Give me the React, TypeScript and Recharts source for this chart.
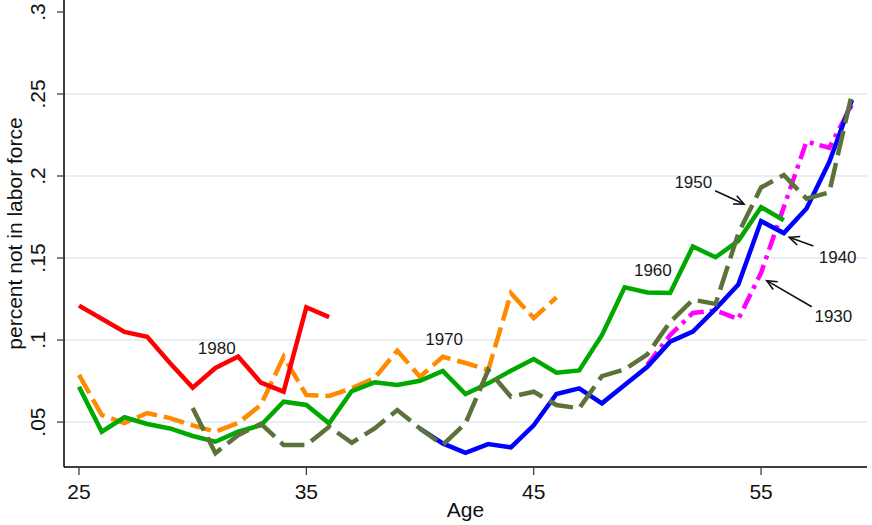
import { LineChart, Line, XAxis, YAxis, ReferenceLine, ReferenceDot, Label } from 'recharts'

const ages = [25, 26, 27, 28, 29, 30, 31, 32, 33, 34, 35, 36, 37, 38, 39, 40, 41, 42, 43, 44, 45, 46, 47, 48, 49, 50, 51, 52, 53, 54, 55, 56, 57, 58, 59]

// each cohort starts at a given age, values are share not in labor force
const start1980 = 25
const cohort1980 = [0.121, 0.113, 0.105, 0.102, 0.086, 0.071, 0.083, 0.09, 0.074, 0.0685, 0.12, 0.114]
const start1970 = 25
const cohort1970 = [0.0787, 0.0543, 0.0494, 0.0555, 0.0524, 0.048, 0.0441, 0.0494, 0.0604, 0.0898, 0.0665, 0.0659, 0.0707, 0.0768, 0.0935, 0.0776, 0.0898, 0.086, 0.0817, 0.1285, 0.1134, 0.126]
const start1960 = 25
const cohort1960 = [0.0715, 0.0441, 0.0529, 0.0488, 0.0461, 0.0415, 0.038, 0.0441, 0.048, 0.0624, 0.0604, 0.0492, 0.0689, 0.0742, 0.0726, 0.0752, 0.0811, 0.0671, 0.0736, 0.0813, 0.0884, 0.0801, 0.0815, 0.103, 0.1321, 0.129, 0.1287, 0.157, 0.1505, 0.1605, 0.181, 0.173]
const start1950 = 30
const cohort1950 = [0.0585, 0.031, 0.042, 0.049, 0.036, 0.036, 0.0471, 0.0374, 0.0461, 0.0573, 0.0461, 0.036, 0.0492, 0.0817, 0.0654, 0.0685, 0.0604, 0.0584, 0.078, 0.0821, 0.0913, 0.111, 0.1246, 0.122, 0.165, 0.193, 0.2006, 0.1862, 0.19, 0.2504]
const start1940 = 40
const cohort1940 = [0.046, 0.037, 0.0313, 0.0366, 0.0346, 0.048, 0.0671, 0.0705, 0.0614, 0.0726, 0.0837, 0.099, 0.1051, 0.119, 0.1338, 0.1725, 0.1652, 0.1802, 0.2085, 0.2463]
const start1930 = 50
const cohort1930 = [0.085, 0.103, 0.1165, 0.118, 0.1128, 0.141, 0.181, 0.221, 0.2172, 0.2435]

const xTicks = [25, 35, 45, 55]
const yTicks = [0.05, 0.1, 0.15, 0.2, 0.25, 0.3]
const gridValues = [0.05, 0.1, 0.15, 0.2, 0.25]

const cohortLabels = [
  { text: '1980', age: 31.06, v: 0.0949 },
  { text: '1970', age: 41.06, v: 0.1004 },
  { text: '1960', age: 50.24, v: 0.1427 },
  { text: '1950', age: 52.02, v: 0.1965 },
  { text: '1940', age: 58.37, v: 0.1508 },
  { text: '1930', age: 58.18, v: 0.1146 },
]

const arrows = [
  { from: [52.98, 0.191], to: [54.25, 0.1829] },
  { from: [57.3, 0.1573], to: [56.24, 0.1626] },
  { from: [57.23, 0.1203], to: [55.25, 0.1362] },
]

const at = (start: number, vals: number[], age: number) => {
  const i = age - start
  return i >= 0 && i < vals.length ? vals[i] : null
}

const data = ages.map(age => ({
  age,
  c1930: at(start1930, cohort1930, age),
  c1940: at(start1940, cohort1940, age),
  c1950: at(start1950, cohort1950, age),
  c1960: at(start1960, cohort1960, age),
  c1970: at(start1970, cohort1970, age),
  c1980: at(start1980, cohort1980, age),
}))

const fmtY = (v: number) => String(v).replace(/^0/, '')

const YTick = (props: any) => {
  const { y, payload } = props
  return (
    <text x={45} y={y} transform={`rotate(-90 45 ${y})`} textAnchor="middle" fontSize={21} fill="#111">
      {fmtY(payload.value)}
    </text>
  )
}

const XTick = (props: any) => {
  const { x, payload } = props
  return (
    <text x={x} y={499} textAnchor="middle" fontSize={21} fill="#111">
      {payload.value}
    </text>
  )
}

const Arrow = (props: any) => {
  const { x1, y1, x2, y2 } = props
  const ang = Math.atan2(y2 - y1, x2 - x1)
  const len = 11
  const spread = 0.42
  const ax = x2 - len * Math.cos(ang - spread)
  const ay = y2 - len * Math.sin(ang - spread)
  const bx = x2 - len * Math.cos(ang + spread)
  const by = y2 - len * Math.sin(ang + spread)
  return (
    <g stroke="#111" strokeWidth={1.6} fill="none">
      <line x1={x1} y1={y1} x2={x2} y2={y2} />
      <polyline points={`${ax},${ay} ${x2},${y2} ${bx},${by}`} />
    </g>
  )
}

export default function App() {
  return (
    <div style={{ position: 'absolute', left: 0, top: 0, background: '#fff' }}>
      <LineChart
        width={872}
        height={525}
        data={data}
        margin={{ top: 0, right: 5, bottom: 0, left: 0 }}
        style={{ fontFamily: '"Liberation Sans", Arial, sans-serif' }}
      >
        {gridValues.map(g => (
          <ReferenceLine key={g} y={g} stroke="#e8eef2" strokeWidth={2} />
        ))}
        <XAxis
          dataKey="age"
          type="number"
          domain={[24.34, 59.66]}
          ticks={xTicks}
          allowDataOverflow
          height={58}
          tickSize={8}
          tickLine={{ stroke: '#333', strokeWidth: 1.2 }}
          axisLine={{ stroke: '#000', strokeWidth: 1.5 }}
          tick={<XTick />}
        >
          <Label
            content={(p: any) => {
              const vb = p.viewBox
              return (
                <text x={vb.x + vb.width / 2} y={517} textAnchor="middle" fontSize={21} fill="#111">Age</text>
              )
            }}
          />
        </XAxis>
        <YAxis
          type="number"
          domain={[0.0226, 0.3073]}
          ticks={yTicks}
          allowDataOverflow
          width={64}
          tickSize={7}
          tickLine={{ stroke: '#333', strokeWidth: 1.2 }}
          axisLine={{ stroke: '#000', strokeWidth: 1.5 }}
          tick={<YTick />}
        >
          <Label
            content={(p: any) => {
              const vb = p.viewBox
              const cy = vb.y + vb.height / 2
              return (
                <text x={22} y={cy} transform={`rotate(-90 22 ${cy})`} textAnchor="middle" fontSize={21} fill="#111">
                  percent not in labor force
                </text>
              )
            }}
          />
        </YAxis>
        <Line dataKey="c1930" stroke="#ff00ff" strokeWidth={4.5} strokeDasharray="16 6 4 6" dot={false} isAnimationActive={false} />
        <Line dataKey="c1940" stroke="#0000ff" strokeWidth={4.5} dot={false} isAnimationActive={false} />
        <Line dataKey="c1970" stroke="#ff8a00" strokeWidth={4.5} strokeDasharray="21 7" dot={false} isAnimationActive={false} />
        <Line dataKey="c1960" stroke="#00a800" strokeWidth={4.5} dot={false} isAnimationActive={false} />
        <Line dataKey="c1980" stroke="#ff0000" strokeWidth={4.5} dot={false} isAnimationActive={false} />
        <Line dataKey="c1950" stroke="#5b7239" strokeWidth={4.5} strokeDasharray="25 8" dot={false} isAnimationActive={false} />
        {arrows.map((a, i) => (
          <ReferenceLine
            key={i}
            segment={[{ x: a.from[0], y: a.from[1] }, { x: a.to[0], y: a.to[1] }]}
            shape={<Arrow />}
          />
        ))}
        {cohortLabels.map(l => (
          <ReferenceDot
            key={l.text}
            x={l.age}
            y={l.v}
            r={0}
            fill="none"
            stroke="none"
            label={{ value: l.text, position: 'center', fontSize: 17, fill: '#1a1a1a' }}
          />
        ))}
      </LineChart>
    </div>
  )
}
